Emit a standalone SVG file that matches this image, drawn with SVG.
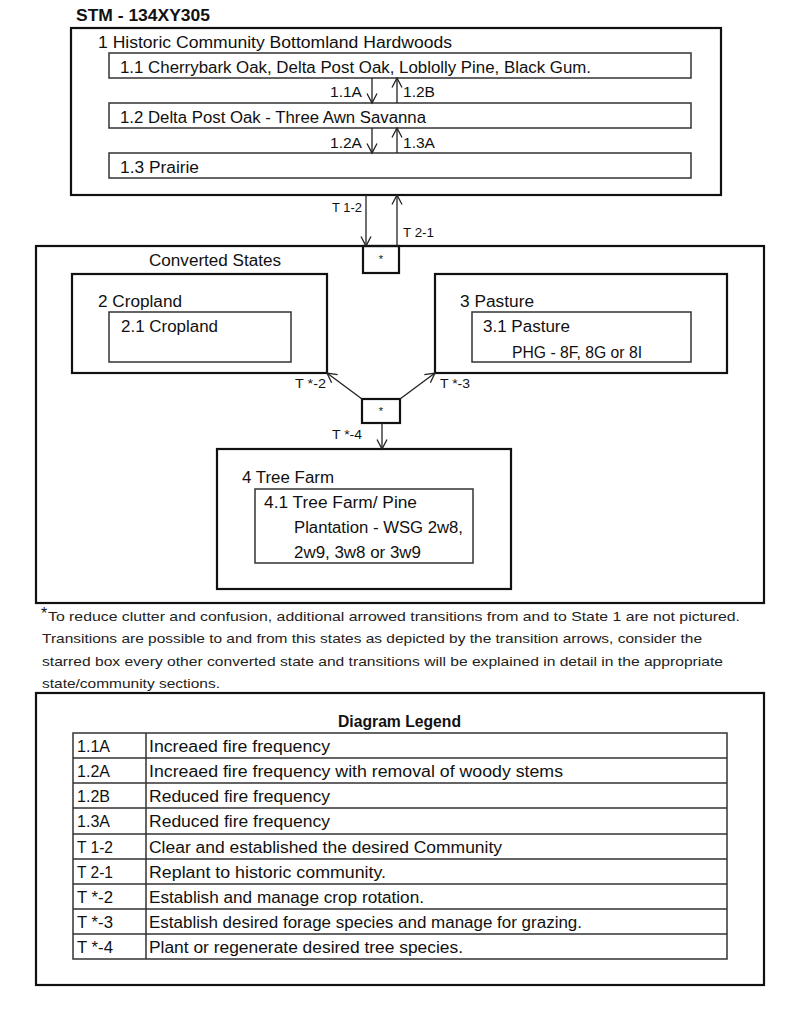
<svg xmlns="http://www.w3.org/2000/svg" width="800" height="1011" viewBox="0 0 800 1011">
<defs>
<style>
text{font-family:"Liberation Sans",Arial,sans-serif;fill:#111;}
.t{font-size:16px;}
.s{font-size:14.5px;}
.l{font-size:12.5px;}
.f{font-size:13.5px;fill:#222;}
.b{font-weight:bold;}
.outer{fill:none;stroke:#111;stroke-width:2.2;}
.inner{fill:none;stroke:#333;stroke-width:1.5;}
.grid{fill:none;stroke:#333;stroke-width:1.5;}
.arr{fill:none;stroke:#222;stroke-width:1.3;marker-end:url(#ah);}
</style>
<marker id="ah" markerUnits="userSpaceOnUse" markerWidth="12" markerHeight="12" viewBox="0 0 12 12" refX="10.5" refY="6" orient="auto">
<path d="M1,1 L10.5,6 L1,11" fill="none" stroke="#222" stroke-width="1.3"/>
</marker>
</defs>
<rect width="800" height="1011" fill="#fff"/>

<text class="t b" x="76" y="21" textLength="134" lengthAdjust="spacingAndGlyphs">STM - 134XY305</text>

<g id="state1">
<rect class="outer" x="71" y="28" width="650" height="167"/>
<text class="t" x="98" y="48" textLength="354" lengthAdjust="spacingAndGlyphs">1 Historic Community Bottomland Hardwoods</text>
</g>
<g id="comm1_1">
<rect class="inner" x="109" y="53" width="582" height="25"/>
<text class="t" x="120" y="72.5" textLength="471" lengthAdjust="spacingAndGlyphs">1.1 Cherrybark Oak, Delta Post Oak, Loblolly Pine, Black Gum.</text>
</g>
<g id="comm1_2">
<rect class="inner" x="109" y="103" width="582" height="25"/>
<text class="t" x="120" y="122.5" textLength="306" lengthAdjust="spacingAndGlyphs">1.2 Delta Post Oak - Three Awn Savanna</text>
</g>
<g id="comm1_3">
<rect class="inner" x="109" y="153" width="582" height="25"/>
<text class="t" x="120" y="172.5" textLength="79" lengthAdjust="spacingAndGlyphs">1.3 Prairie</text>
</g>

<g id="converted">
<rect class="outer" x="36" y="246" width="728" height="357"/>
<text class="t" x="149" y="266" textLength="132" lengthAdjust="spacingAndGlyphs">Converted States</text>
</g>
<g id="star1">
<rect class="outer" x="363" y="246" width="36" height="27"/>
<text x="381" y="263" font-size="11" text-anchor="middle">*</text>
</g>
<g id="state2">
<rect class="outer" x="72" y="274" width="255" height="99"/>
<text class="t" x="98" y="306.5" textLength="84" lengthAdjust="spacingAndGlyphs">2 Cropland</text>
</g>
<g id="comm2_1">
<rect class="inner" x="109" y="312" width="182" height="50"/>
<text class="t" x="121" y="332" textLength="97" lengthAdjust="spacingAndGlyphs">2.1 Cropland</text>
</g>
<g id="state3">
<rect class="outer" x="435" y="274" width="292" height="99"/>
<text class="t" x="460" y="306.5" textLength="74" lengthAdjust="spacingAndGlyphs">3 Pasture</text>
</g>
<g id="comm3_1">
<rect class="inner" x="472" y="312" width="219" height="50"/>
<text class="t" x="483" y="332" textLength="87" lengthAdjust="spacingAndGlyphs">3.1 Pasture</text>
<text class="t" x="512" y="358" textLength="130" lengthAdjust="spacingAndGlyphs">PHG - 8F, 8G or 8I</text>
</g>
<g id="star2">
<rect class="outer" x="362" y="399" width="38" height="24"/>
<text x="381" y="415" font-size="11" text-anchor="middle">*</text>
</g>
<g id="state4">
<rect class="outer" x="217" y="449" width="294" height="140"/>
<text class="t" x="242" y="483" textLength="92" lengthAdjust="spacingAndGlyphs">4 Tree Farm</text>
</g>
<g id="comm4_1">
<rect class="inner" x="255" y="489" width="218" height="74"/>
<text class="t" x="264" y="508" textLength="153" lengthAdjust="spacingAndGlyphs">4.1 Tree Farm/ Pine</text>
<text class="t" x="294" y="533" textLength="169" lengthAdjust="spacingAndGlyphs">Plantation - WSG 2w8,</text>
<text class="t" x="294" y="558" textLength="127" lengthAdjust="spacingAndGlyphs">2w9, 3w8 or 3w9</text>
</g>

<g id="connectors">
<line class="arr" x1="372" y1="78" x2="372" y2="103"/>
<line class="arr" x1="397" y1="103" x2="397" y2="78"/>
<line class="arr" x1="372" y1="128" x2="372" y2="153"/>
<line class="arr" x1="397" y1="153" x2="397" y2="128"/>
<line class="arr" x1="366" y1="195" x2="366" y2="246"/>
<line class="arr" x1="397" y1="246" x2="397" y2="195"/>
<line class="arr" x1="362" y1="399" x2="327" y2="373"/>
<line class="arr" x1="400" y1="399" x2="435" y2="373"/>
<line class="arr" x1="382" y1="423" x2="382" y2="449"/>
<text class="s" x="330" y="97" textLength="32" lengthAdjust="spacingAndGlyphs">1.1A</text>
<text class="s" x="403" y="97" textLength="32" lengthAdjust="spacingAndGlyphs">1.2B</text>
<text class="s" x="330" y="148" textLength="32" lengthAdjust="spacingAndGlyphs">1.2A</text>
<text class="s" x="403" y="148" textLength="32" lengthAdjust="spacingAndGlyphs">1.3A</text>
<text class="l" x="332" y="212" textLength="30" lengthAdjust="spacingAndGlyphs">T 1-2</text>
<text class="l" x="403" y="237" textLength="31" lengthAdjust="spacingAndGlyphs">T 2-1</text>
<text class="l" x="295" y="388" textLength="31" lengthAdjust="spacingAndGlyphs">T *-2</text>
<text class="l" x="440" y="388" textLength="30" lengthAdjust="spacingAndGlyphs">T *-3</text>
<text class="l" x="332" y="439" textLength="30" lengthAdjust="spacingAndGlyphs">T *-4</text>
</g>

<g id="footnote">
<text x="41" y="619" font-size="16">*</text>
<text class="f" x="48" y="621" textLength="692" lengthAdjust="spacingAndGlyphs">To reduce clutter and confusion, additional arrowed transitions from and to State 1 are not pictured.</text>
<text class="f" x="42" y="643" textLength="660" lengthAdjust="spacingAndGlyphs">Transitions are possible to and from this states as depicted by the transition arrows, consider the</text>
<text class="f" x="42" y="666" textLength="681" lengthAdjust="spacingAndGlyphs">starred box every other converted state and transitions will be explained in detail in the appropriate</text>
<text class="f" x="42" y="688" textLength="178" lengthAdjust="spacingAndGlyphs">state/community sections.</text>
</g>

<g id="legend">
<rect class="outer" x="36" y="693" width="728" height="292"/>
<text class="t b" x="338" y="727" textLength="123" lengthAdjust="spacingAndGlyphs">Diagram Legend</text>
<rect class="grid" x="73" y="733" width="654" height="226"/>
<line class="grid" x1="146" y1="733" x2="146" y2="959"/>
<path class="grid" d="M73,758H727M73,783H727M73,808H727M73,834H727M73,859H727M73,884H727M73,909H727M73,934H727"/>
<g class="t">
<text x="77" y="752" textLength="33" lengthAdjust="spacingAndGlyphs">1.1A</text>
<text x="149" y="752" textLength="181" lengthAdjust="spacingAndGlyphs">Increaed fire frequency</text>
<text x="77" y="777" textLength="33" lengthAdjust="spacingAndGlyphs">1.2A</text>
<text x="149" y="777" textLength="414" lengthAdjust="spacingAndGlyphs">Increaed fire frequency with removal of woody stems</text>
<text x="77" y="802" textLength="33" lengthAdjust="spacingAndGlyphs">1.2B</text>
<text x="149" y="802" textLength="181" lengthAdjust="spacingAndGlyphs">Reduced fire frequency</text>
<text x="77" y="827" textLength="33" lengthAdjust="spacingAndGlyphs">1.3A</text>
<text x="149" y="827" textLength="181" lengthAdjust="spacingAndGlyphs">Reduced fire frequency</text>
<text x="77" y="853" textLength="36" lengthAdjust="spacingAndGlyphs">T 1-2</text>
<text x="149" y="853" textLength="353" lengthAdjust="spacingAndGlyphs">Clear and established the desired Community</text>
<text x="77" y="878" textLength="36" lengthAdjust="spacingAndGlyphs">T 2-1</text>
<text x="149" y="878" textLength="237" lengthAdjust="spacingAndGlyphs">Replant to historic community.</text>
<text x="77" y="903" textLength="36" lengthAdjust="spacingAndGlyphs">T *-2</text>
<text x="149" y="903" textLength="275" lengthAdjust="spacingAndGlyphs">Establish and manage crop rotation.</text>
<text x="77" y="928" textLength="36" lengthAdjust="spacingAndGlyphs">T *-3</text>
<text x="149" y="928" textLength="433" lengthAdjust="spacingAndGlyphs">Establish desired forage species and manage for grazing.</text>
<text x="77" y="953" textLength="36" lengthAdjust="spacingAndGlyphs">T *-4</text>
<text x="149" y="953" textLength="314" lengthAdjust="spacingAndGlyphs">Plant or regenerate desired tree species.</text>
</g>
</g>
</svg>
